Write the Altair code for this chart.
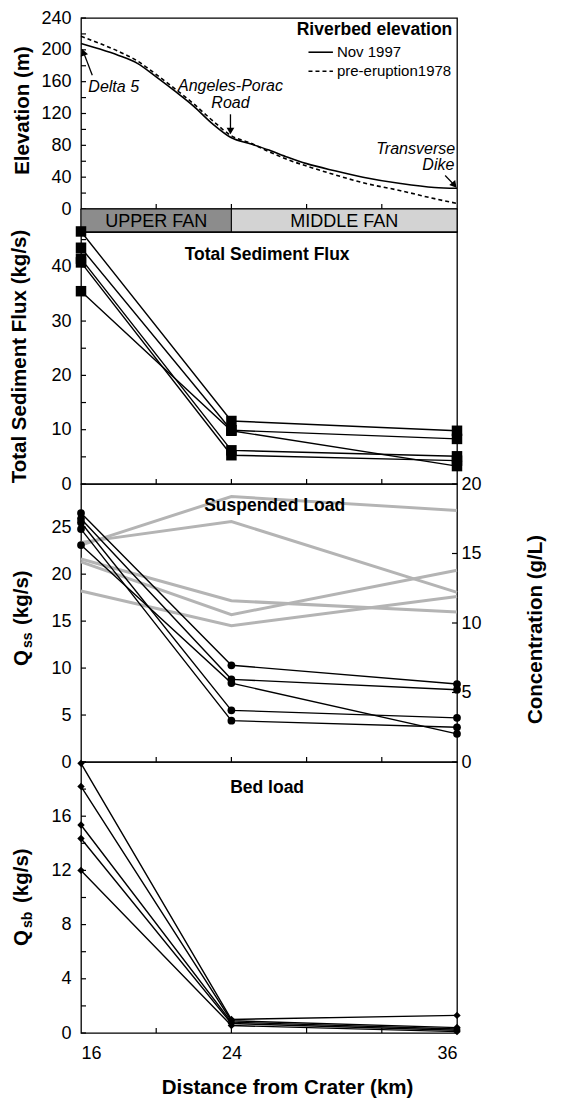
import altair as alt
import pandas as pd

FONT = "Liberation Sans"

# ---------------- data ----------------
sites_km = [16, 24, 36]
events = ["E1", "E2", "E3", "E4", "E5"]

elev_km = [16, 17, 18, 19, 20, 21, 22, 23, 24, 25, 26, 27, 28, 29.5, 31, 33, 34.8, 36]
elev_nov1997 = [208, 201, 193, 183, 166, 148, 129, 107, 89.5, 82, 74, 65, 57, 48, 40, 32, 27, 26]
elev_pre1978 = [217, 208, 198, 186, 169, 151, 132, 111, 92, 83, 72, 62, 54, 43, 33, 23, 13, 7]

flux_16 = [46.5, 43.5, 41.5, 40.8, 35.5]
flux_24 = [11.6, 9.9, 6.2, 5.3, 9.8]
flux_36 = [9.8, 8.3, 5.1, 4.3, 3.3]

qss_16 = [26.5, 25.9, 25.5, 24.8, 23.1]
qss_24 = [10.3, 8.8, 5.5, 4.4, 8.4]
qss_36 = [8.3, 7.7, 4.7, 3.7, 3.0]

conc_16 = [15.6, 15.8, 14.6, 14.4, 12.3]
conc_24 = [19.1, 17.3, 11.6, 10.6, 9.8]
conc_36 = [18.1, 12.2, 10.8, 13.8, 11.9]

qsb_16 = [19.9, 18.2, 15.35, 14.35, 12.0]
qsb_24 = [1.0, 0.9, 0.8, 0.7, 0.55]
qsb_36 = [1.3, 0.4, 0.3, 0.2, 0.1]

fan_names = ["UPPER FAN", "MIDDLE FAN"]
fan_start = [16, 24]
fan_end = [24, 36]
fan_center = [20, 30]
fan_fill = ["#8c8c8c", "#d3d3d3"]


def long_df(a, b, c):
    rows = []
    for i, ev in enumerate(events):
        for km, arr in zip(sites_km, (a, b, c)):
            rows.append({"ev": ev, "km": km, "val": arr[i]})
    return pd.DataFrame(rows)


# ---------------- layout helpers ----------------
W = 376
H_E, H_B, H_F, H_S, H_Q = 191, 23, 252, 278, 271
XS = alt.Scale(domain=[16, 36], nice=False)
D_E, D_F, D_S, D_C, D_Q = [0, 240], [0, 46.4], [0, 29.6], [0, 20], [0, 20]


def X(field, axis=None):
    return alt.X(f"{field}:Q", scale=XS, axis=axis)


def Y(field, dom, axis=None):
    return alt.Y(f"{field}:Q", scale=alt.Scale(domain=dom, nice=False), axis=axis)


def left_axis(values, title=None, ty=0, tx=-59):
    kw = dict(values=values, ticks=False, domain=False, grid=False,
              labelFontSize=18, labelPadding=10, labelColor="black",
              labelFont=FONT, title=title)
    if title:
        kw.update(titleFontSize=20.5, titleFontWeight="bold", titleAngle=270,
                  titleX=tx, titleY=ty, titleAlign="center",
                  titleBaseline="middle", titleColor="black", titleFont=FONT)
    return alt.Axis(**kw)


def yticks(vals, dom, yax=None, side="left"):
    df = pd.DataFrame({"v": vals})
    if side == "left":
        xx, xx2 = alt.value(0), alt.value(5)
    else:
        xx, xx2 = alt.value(W - 5), alt.value(W)
    return alt.Chart(df).mark_rule(color="black", strokeWidth=1.2).encode(
        y=Y("v", dom, yax), x=xx, x2=xx2)


def xticks(H, xax=None):
    df = pd.DataFrame({"t": [20, 24, 28, 32]})
    return alt.Chart(df).mark_rule(color="black", strokeWidth=1.2).encode(
        x=X("t", xax), y=alt.value(H), y2=alt.value(H - 5))


def label(text, **kw):
    base = dict(font=FONT, color="black")
    base.update(kw)
    return alt.Chart(pd.DataFrame({"t": [text]})).mark_text(**base).encode(text="t:N")


def data_text(text, km, val, dom, yax=None, xax=None, **kw):
    base = dict(font=FONT, color="black")
    base.update(kw)
    return alt.Chart(pd.DataFrame({"t": [text], "km": [km], "v": [val]})).mark_text(**base).encode(
        text="t:N", x=X("km", xax), y=Y("v", dom, yax))


# ---------------- elevation panel ----------------
AX_E = left_axis([0, 40, 80, 120, 160, 200, 240], "Elevation (m)", 92)
n = len(elev_km)
elev_df = pd.DataFrame({"km": elev_km * 2, "elev": elev_nov1997 + elev_pre1978,
                        "s": ["Nov 1997"] * n + ["pre-eruption1978"] * n})

solid = alt.Chart(elev_df).transform_filter(alt.datum.s == "Nov 1997").mark_line(
    color="black", strokeWidth=1.6, interpolate="monotone").encode(
    x=X("km"), y=Y("elev", D_E, AX_E))
dashed = alt.Chart(elev_df).transform_filter(alt.datum.s == "pre-eruption1978").mark_line(
    color="black", strokeWidth=1.6, strokeDash=[4, 3], interpolate="monotone").encode(
    x=X("km"), y=Y("elev", D_E, AX_E))

leg_df = pd.DataFrame({"x0": [28.1, 28.1], "x1": [29.4, 29.4], "y": [197, 173],
                       "s": ["Nov 1997", "pre-eruption1978"]})
leg_solid = alt.Chart(leg_df).transform_filter(alt.datum.s == "Nov 1997").mark_rule(
    color="black", strokeWidth=1.6).encode(x=X("x0"), x2="x1:Q", y=Y("y", D_E, AX_E))
leg_dash = alt.Chart(leg_df).transform_filter(alt.datum.s == "pre-eruption1978").mark_rule(
    color="black", strokeWidth=1.6, strokeDash=[4, 3]).encode(x=X("x0"), x2="x1:Q", y=Y("y", D_E, AX_E))
leg_text = alt.Chart(leg_df).mark_text(font=FONT, fontSize=15, align="left", baseline="middle",
                                       color="black", dx=4).encode(
    x=X("x1"), y=Y("y", D_E, AX_E), text="s:N")

arrows_df = pd.DataFrame({"x": [16.6, 23.95, 35.37], "y": [168, 119, 42],
                          "x2": [16.1, 23.95, 35.9], "y2": [199, 97, 29]})
arrows = alt.Chart(arrows_df).mark_rule(color="black", strokeWidth=1.3).encode(
    x=X("x"), x2="x2:Q", y=Y("y", D_E, AX_E), y2="y2:Q")
heads_df = pd.DataFrame({"km": [16.12, 23.95, 35.86], "elev": [197, 98, 30], "ang": [341, 180, 140]})
heads = alt.Chart(heads_df).mark_point(shape="triangle-up", filled=True, size=60, color="black",
                                       opacity=1).encode(
    x=X("km"), y=Y("elev", D_E, AX_E), angle=alt.Angle("ang:Q", scale=None))

elev_chart = alt.layer(
    solid, dashed, leg_solid, leg_dash, leg_text, arrows, heads,
    data_text("Riverbed elevation", 35.75, 225, D_E, AX_E, fontSize=17.5, fontWeight="bold",
              align="right", baseline="middle"),
    data_text("Delta 5", 16.39, 153, D_E, AX_E, fontSize=16, fontStyle="italic", align="left",
              baseline="middle"),
    data_text("Angeles-Porac", 23.95, 154, D_E, AX_E, fontSize=16, fontStyle="italic",
              align="center", baseline="middle"),
    data_text("Road", 23.95, 133, D_E, AX_E, fontSize=16, fontStyle="italic", align="center",
              baseline="middle"),
    data_text("Transverse", 35.9, 76, D_E, AX_E, fontSize=16, fontStyle="italic", align="right",
              baseline="middle"),
    data_text("Dike", 35.86, 55, D_E, AX_E, fontSize=16, fontStyle="italic", align="right",
              baseline="middle"),
    yticks(list(range(0, 241, 20)), D_E, AX_E),
    xticks(H_E),
).properties(width=W, height=H_E)

# ---------------- fan band ----------------
fan_df = pd.DataFrame({"name": fan_names, "x0": fan_start, "x1": fan_end,
                       "xc": fan_center, "fill": fan_fill})
band_rect = alt.Chart(fan_df).mark_rect(stroke="black", strokeWidth=1).encode(
    x=X("x0"), x2="x1:Q", y=alt.value(0), y2=alt.value(H_B),
    color=alt.Color("fill:N", scale=None))
band_text = alt.Chart(fan_df).mark_text(font=FONT, fontSize=18, color="black",
                                        baseline="middle").encode(
    x=X("xc"), y=alt.value(H_B / 2 + 1), text="name:N")
band_chart = alt.layer(band_rect, band_text).properties(width=W, height=H_B)

# ---------------- total sediment flux ----------------
AX_F = left_axis([0, 10, 20, 30, 40], "Total Sediment Flux (kg/s)", 124, -62)
fl_df = long_df(flux_16, flux_24, flux_36)
fl_lines = alt.Chart(fl_df).mark_line(color="black", strokeWidth=1.4).encode(
    x=X("km"), y=Y("val", D_F, AX_F), detail="ev:N")
fl_pts = alt.Chart(fl_df).mark_point(shape="square", filled=True, size=110, color="black",
                                     opacity=1).encode(x=X("km"), y=Y("val", D_F, AX_F))
flux_chart = alt.layer(
    fl_lines, fl_pts,
    data_text("Total Sediment Flux", 25.9, 42.2, D_F, AX_F, fontSize=17.5, fontWeight="bold",
              align="center", baseline="middle"),
    yticks(list(range(0, 46, 5)), D_F, AX_F),
    xticks(H_F),
).properties(width=W, height=H_F)

# ---------------- suspended load ----------------
ss_df = long_df(qss_16, qss_24, qss_36)
cc_df = long_df(conc_16, conc_24, conc_36)
right_axis = alt.Axis(orient="right", values=[0, 5, 10, 15, 20], ticks=False, domain=False,
                      grid=False, labelFontSize=18, labelPadding=4, labelColor="black",
                      labelFont=FONT, title="Concentration (g/L)", titleFontSize=20.5,
                      titleFontWeight="bold", titleAngle=270, titleX=78, titleY=145,
                      titleAlign="center", titleBaseline="middle", titleColor="black",
                      titleFont=FONT)
cc_lines = alt.Chart(cc_df).mark_line(color="#b4b4b4", strokeWidth=3).encode(
    x=X("km"), y=Y("val", D_C, right_axis), detail="ev:N")
ss_lines = alt.Chart(ss_df).mark_line(color="black", strokeWidth=1.4).encode(
    x=X("km"), y=Y("val", D_S, left_axis([0, 5, 10, 15, 20, 25])), detail="ev:N")
ss_pts = alt.Chart(ss_df).mark_circle(size=60, color="black", opacity=1).encode(
    x=X("km"), y=Y("val", D_S))
susp_chart = alt.layer(
    cc_lines, ss_lines, ss_pts,
    yticks([0, 5, 10, 15, 20, 25], D_S),
    yticks([0, 5, 10, 15, 20], D_C, side="right"),
    xticks(H_S),
    data_text("Suspended Load", 26.3, 27.3, D_S, fontSize=17.5, fontWeight="bold",
              align="center", baseline="middle"),
    label("Q", x=-59, y=182, angle=270, align="left", baseline="middle", fontSize=20.5,
          fontWeight="bold"),
    label("ss", x=-53, y=164, angle=270, align="left", baseline="middle", fontSize=14,
          fontWeight="bold"),
    label("(kg/s)", x=-59, y=141, angle=270, align="left", baseline="middle", fontSize=20.5,
          fontWeight="bold"),
).resolve_scale(y="independent").properties(width=W, height=H_S)

# ---------------- bed load ----------------
AX_X = alt.Axis(values=[16, 24, 36], ticks=False, domain=False, grid=False, labelFontSize=18,
                labelPadding=11, labelColor="black", labelFont=FONT,
                title="Distance from Crater (km)", titleFontSize=20.5, titleFontWeight="bold",
                titleX=206, titleY=54, titleAlign="center", titleBaseline="middle",
                titleColor="black", titleFont=FONT)
AX_Q = left_axis([0, 4, 8, 12, 16])
sb_df = long_df(qsb_16, qsb_24, qsb_36)
sb_lines = alt.Chart(sb_df).mark_line(color="black", strokeWidth=1.4).encode(
    x=X("km", AX_X), y=Y("val", D_Q, AX_Q), detail="ev:N")
sb_pts = alt.Chart(sb_df).mark_point(shape="diamond", filled=True, size=55, color="black",
                                     opacity=1).encode(x=X("km", AX_X), y=Y("val", D_Q, AX_Q))
bed_chart = alt.layer(
    sb_lines, sb_pts,
    yticks(list(range(0, 21, 2)), D_Q, AX_Q),
    xticks(H_Q, AX_X),
    data_text("Bed load", 25.9, 18.1, D_Q, AX_Q, AX_X, fontSize=17.5, fontWeight="bold",
              align="center", baseline="middle"),
    label("Q", x=-59, y=184, angle=270, align="left", baseline="middle", fontSize=20.5,
          fontWeight="bold"),
    label("sb", x=-53, y=166, angle=270, align="left", baseline="middle", fontSize=14,
          fontWeight="bold"),
    label("(kg/s)", x=-59, y=141, angle=270, align="left", baseline="middle", fontSize=20.5,
          fontWeight="bold"),
).properties(width=W, height=H_Q)

chart = alt.vconcat(
    elev_chart, band_chart, flux_chart, susp_chart, bed_chart, spacing=0, bounds="flush"
).properties(
    padding={"left": 0, "top": 0, "right": 4, "bottom": 2}
).configure_view(
    stroke="black", strokeWidth=1.3
).configure_axis(
    labelFont=FONT, titleFont=FONT
)

chart.save("out.html", embed_options={"renderer": "svg", "actions": False})
